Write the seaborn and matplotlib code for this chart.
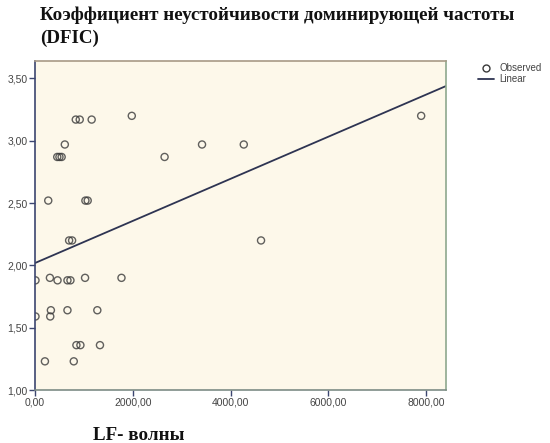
import matplotlib
matplotlib.use("Agg")
import matplotlib.pyplot as plt
import matplotlib.ticker as mticker
from matplotlib.lines import Line2D
import seaborn as sns
import pandas as pd

# ---- data ----
lf_waves = [10, 10, 203, 271, 305, 325, 312, 461, 455, 500, 545, 610, 664, 664,
            725, 698, 759, 793, 834, 915, 847, 929, 1024, 1031, 1078, 1159,
            1275, 1329, 1769, 1980, 2651, 3417, 4271, 4624, 7900]
dfic = [1.88, 1.59, 1.23, 2.52, 1.90, 1.64, 1.59, 1.88, 2.87, 2.87, 2.87, 2.97,
        1.64, 1.88, 1.88, 2.20, 2.20, 1.23, 3.17, 3.17, 1.36, 1.36, 1.90, 2.52,
        2.52, 3.17, 1.64, 1.36, 1.90, 3.20, 2.87, 2.97, 2.97, 2.20, 3.20]
x_ticks = [0, 2000, 4000, 6000, 8000]
y_ticks = [1.0, 1.5, 2.0, 2.5, 3.0, 3.5]
title_text = "Коэффициент неустойчивости доминирующей частоты\n(DFIC)"
xlabel_text = "LF- волны"
legend_labels = ["Observed", "Linear"]

df = pd.DataFrame({"lf": lf_waves, "dfic": dfic})

sns.set_theme(style="white")
plt.rcParams["font.family"] = ["Liberation Sans", "DejaVu Sans"]

fig = plt.figure(figsize=(5.5, 4.43), dpi=100)
ax = fig.add_axes([35 / 550, 1 - 390 / 443, (446 - 35) / 550, (390 - 61) / 443])
ax.set_facecolor("#fdf8ea")
ax.set_xlim(0, 8408)
ax.set_ylim(1.0, 3.64)

sns.regplot(data=df, x="lf", y="dfic", ax=ax, ci=None, truncate=False,
            scatter_kws=dict(s=26, facecolors="none", edgecolors="#3a3a3a",
                             linewidths=1.0),
            line_kws=dict(color="#2e3452", lw=1.3))
ax.set_xlim(0, 8408)
ax.set_ylim(1.0, 3.64)

ax.set_xticks(x_ticks)
ax.set_yticks(y_ticks)
fmt = mticker.FuncFormatter(lambda v, p: f"{v:.2f}".replace(".", ","))
ax.xaxis.set_major_formatter(fmt)
ax.yaxis.set_major_formatter(fmt)
ax.tick_params(axis="both", direction="out", length=4, width=1, color="#3c4670",
               labelsize=7.5, labelcolor="#444444", pad=1.5, bottom=True, left=True)
ax.set_xlabel("")
ax.set_ylabel("")

ax.spines["left"].set_color("#3c4670")
ax.spines["bottom"].set_color("#7d8c86")
ax.spines["top"].set_color("#a89a86")
ax.spines["right"].set_color("#8ea88e")
for s in ax.spines.values():
    s.set_linewidth(1.2)

fig.text(40 / 550, 1 - 7 / 443, title_text, ha="left", va="top",
         fontsize=13.7, fontweight="bold", family=["Liberation Serif"],
         linespacing=1.38, color="#111111")
fig.text(93 / 550, 3 / 443, xlabel_text, ha="left", va="baseline",
         fontsize=13.7, fontweight="bold", family=["Liberation Serif"],
         color="#111111")

handles = [Line2D([], [], ls="none", marker="o", mfc="none", mec="#3a3a3a",
                  ms=5, mew=1.0),
           Line2D([], [], color="#2e3452", lw=1.3)]
fig.legend(handles, legend_labels, loc="upper left",
           bbox_to_anchor=(478 / 550, 1 - 63 / 443), frameon=False,
           fontsize=7, handlelength=1.6, handletextpad=0.6,
           labelspacing=0.15, borderaxespad=0, borderpad=0,
           labelcolor="#444444")

fig.savefig("out.png", dpi=100)
